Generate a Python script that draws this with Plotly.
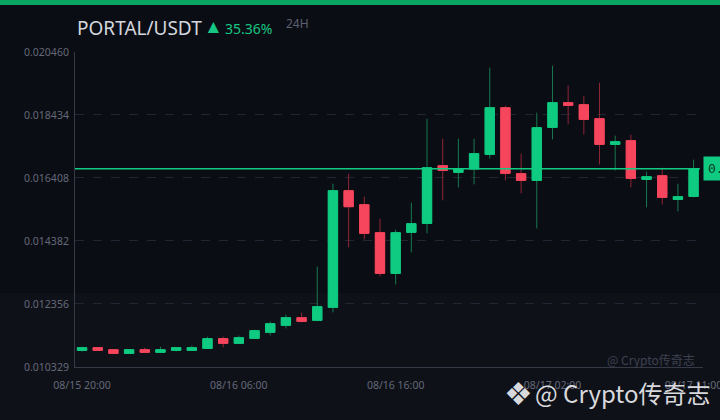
import pandas as pd
import plotly.graph_objects as go

# hourly candles PORTAL/USDT, 08/15 20:00 -> 08/17 11:00
times = pd.date_range("2024-08-15 20:00", periods=40, freq="h")

opens = [0.010864, 0.010951, 0.010886, 0.010767, 0.010886, 0.010800, 0.010864, 0.010864,
         0.010928, 0.011240, 0.011089, 0.011250, 0.011443, 0.011668, 0.011915, 0.011829,
         0.012247, 0.016000, 0.015549, 0.014649, 0.013340, 0.014659, 0.014948, 0.016804,
         0.016588, 0.016697, 0.017167, 0.018669, 0.016546, 0.016331, 0.018035, 0.018830,
         0.018765, 0.018315, 0.017489, 0.017608, 0.016363, 0.016482, 0.015720, 0.015816]
highs = [0.010983, 0.010951, 0.010886, 0.010886, 0.010951, 0.010983, 0.010951, 0.011015,
         0.011304, 0.011304, 0.011337, 0.011530, 0.011787, 0.012012, 0.012076, 0.013556,
         0.016225, 0.016546, 0.015807, 0.015099, 0.014745, 0.015614, 0.018315, 0.017672,
         0.017672, 0.017672, 0.019955, 0.018733, 0.017190, 0.018508, 0.020020, 0.019376,
         0.019055, 0.019473, 0.017768, 0.017801, 0.016611, 0.016739, 0.016225, 0.016997]
lows = [0.010822, 0.010864, 0.010767, 0.010767, 0.010800, 0.010800, 0.010832, 0.010864,
        0.010928, 0.010960, 0.011089, 0.011250, 0.011346, 0.011571, 0.011764, 0.011796,
        0.012086, 0.014176, 0.014433, 0.013244, 0.012986, 0.014015, 0.014626, 0.015688,
        0.016106, 0.016202, 0.017038, 0.016331, 0.015913, 0.014787, 0.017649, 0.018132,
        0.017810, 0.016845, 0.016652, 0.016106, 0.015463, 0.015559, 0.015334, 0.015784]
closes = [0.010951, 0.010864, 0.010767, 0.010886, 0.010800, 0.010886, 0.010951, 0.010951,
          0.011240, 0.011089, 0.011272, 0.011497, 0.011722, 0.011915, 0.011796, 0.012269,
          0.016000, 0.015485, 0.014626, 0.013340, 0.014649, 0.014938, 0.016739, 0.016652,
          0.016697, 0.017190, 0.018669, 0.016556, 0.016331, 0.018026, 0.018830, 0.018743,
          0.018293, 0.017489, 0.017575, 0.016395, 0.016450, 0.015784, 0.015807, 0.016707]

y_ticks = [0.010329, 0.012356, 0.014382, 0.016408, 0.018434, 0.020460]
y_labels = ["0.010329", "0.012356", "0.014382", "0.016408", "0.018434", "0.020460"]
x_tick_idx = [0, 10, 20, 30, 39]
x_labels = ["08/15 20:00", "08/16 06:00", "08/16 16:00", "08/17 02:00", "08/17 11:00"]

pair = "PORTAL/USDT"
change = "35.36%"
last_price = closes[-1]

GREEN = "#0ecb81"
RED = "#f6465d"
BG = "#0b0d14"

body_hi = [max(o, c) for o, c in zip(opens, closes)]
body_lo = [min(o, c) for o, c in zip(opens, closes)]

fig = go.Figure()
# wicks (darker)
fig.add_trace(go.Candlestick(
    x=times, open=opens, high=highs, low=lows, close=closes,
    increasing=dict(line=dict(color="#17794f", width=1), fillcolor=GREEN),
    decreasing=dict(line=dict(color="#8e2535", width=1), fillcolor=RED),
    hoverinfo="skip", showlegend=False))
# bodies on top
fig.add_trace(go.Candlestick(
    x=times, open=opens, high=body_hi, low=body_lo, close=closes,
    increasing=dict(line=dict(color=GREEN, width=1), fillcolor=GREEN),
    decreasing=dict(line=dict(color=RED, width=1), fillcolor=RED),
    hoverinfo="skip", showlegend=False))

# slightly lighter lower band of the background
fig.add_shape(type="rect", xref="paper", yref="paper", x0=-0.2, x1=1.1, y0=-0.2, y1=0.235,
              fillcolor="#0f1119", line=dict(width=0), layer="below")

# last price line + label
fig.add_shape(type="line", xref="paper", x0=0, x1=0.995, yref="y", y0=last_price, y1=last_price,
              line=dict(color=GREEN, width=1.5))
fig.add_annotation(xref="paper", x=1.0, yref="y", y=last_price, xanchor="left", yanchor="middle",
                   text=f"{last_price:.6f}", showarrow=False, bgcolor=GREEN, borderpad=4,
                   font=dict(color="#0b3d27", size=13, family="DejaVu Sans Mono"))

# top green strip
fig.add_shape(type="rect", xref="paper", yref="paper", x0=-0.2, x1=1.1, y0=1.149, y1=1.2,
              fillcolor="#0aa764", line=dict(width=0), layer="above")

# title
fig.add_annotation(xref="paper", yref="paper", x=0.0, y=1.076, xanchor="left", yanchor="middle",
                   text=pair, showarrow=False, font=dict(size=19, color="#d4d7de"))
fig.add_annotation(xref="paper", yref="paper", x=0.203, y=1.081, xanchor="left", yanchor="middle",
                   text="▲", showarrow=False, font=dict(size=19, color="#16c784"))
fig.add_annotation(xref="paper", yref="paper", x=0.235, y=1.076, xanchor="left", yanchor="middle",
                   text=change, showarrow=False, font=dict(size=14, color="#16c784"))
fig.add_annotation(xref="paper", yref="paper", x=0.333, y=1.092, xanchor="left", yanchor="middle",
                   text="24H", showarrow=False, font=dict(size=12, color="#5b6070"))

# watermarks
fig.add_annotation(xref="paper", yref="paper", x=0.99, y=0.025, xanchor="right", yanchor="middle",
                   text="@ Crypto传奇志", showarrow=False,
                   font=dict(size=12, color="#3e4250", family="Noto Sans CJK SC"))
fig.add_annotation(xref="paper", yref="paper", x=1.016, y=-0.082, xanchor="right", yanchor="middle",
                   text="@ Crypto传奇志", showarrow=False,
                   font=dict(size=24, color="#d8d9dd", family="Noto Sans CJK SC"))
fig.add_annotation(xref="paper", yref="paper", x=0.707, y=-0.082, xanchor="center", yanchor="middle",
                   text="❖", showarrow=False, font=dict(size=32, color="#d8d9dd"))

fig.update_layout(
    width=720, height=420,
    margin=dict(l=75, r=17, t=52, b=53),
    paper_bgcolor=BG, plot_bgcolor="rgba(0,0,0,0)",
    font=dict(family="Noto Sans", color="#646978", size=11),
    showlegend=False,
    boxgap=0.15,
    xaxis=dict(
        rangeslider=dict(visible=False), automargin=False,
        range=["2024-08-15 19:33", "2024-08-17 11:36"],
        tickvals=[times[i] for i in x_tick_idx], ticktext=x_labels,
        showgrid=False, showline=True, linecolor="#363a46", linewidth=1,
        ticks="", ticklabelstandoff=8, ticklabeloverflow="allow",
        tickfont=dict(size=10.5, color="#646978"), zeroline=False,
    ),
    yaxis=dict(
        range=[y_ticks[0], y_ticks[-1]], automargin=False,
        tickvals=y_ticks, ticktext=y_labels,
        showgrid=True, gridcolor="#222632", griddash="dash", gridwidth=1,
        showline=True, linecolor="#363a46", linewidth=1,
        ticks="", ticklabelstandoff=3, tickfont=dict(size=10.5, color="#646978"), zeroline=False,
    ),
)

fig.write_html("out.html", config={"displayModeBar": False},
               post_script="document.body.style.margin='0';")
